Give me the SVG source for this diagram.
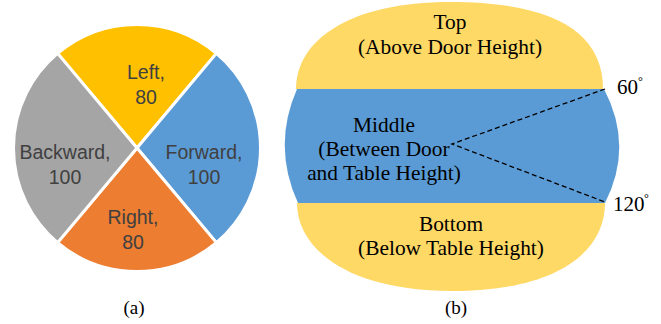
<svg xmlns="http://www.w3.org/2000/svg" width="661" height="324" viewBox="0 0 661 324">
<style>
.pie{stroke:#fff;stroke-width:3;stroke-linejoin:round}
.pl{font-family:"Liberation Sans",Arial,sans-serif;font-size:19.5px;fill:#404040;text-anchor:middle}
.tl{font-family:"Liberation Serif","Times New Roman",serif;font-size:21.4px;fill:#000;text-anchor:middle}
.deg{font-family:"Liberation Serif","Times New Roman",serif;font-size:21px;fill:#000}
.sup{font-family:"Liberation Serif","Times New Roman",serif;font-size:12px;fill:#000}
.cap{font-family:"Liberation Serif","Times New Roman",serif;font-size:19px;fill:#000;text-anchor:middle}
.y{fill:#FFD966}
.b{fill:#5B9BD5}
</style>
<rect width="661" height="324" fill="#fff"/>
<g id="pie-a">
  <g id="left"><path class="pie" fill="#FFC000" d="M137,148 L57.6,53.4 A123.5,123.5 0 0 1 216.4,53.4 Z"/>
    <text class="pl" x="146" y="79">Left,</text><text class="pl" x="146" y="104">80</text></g>
  <g id="forward"><path class="pie" fill="#5B9BD5" d="M137,148 L216.4,53.4 A123.5,123.5 0 0 1 216.4,242.6 Z"/>
    <text class="pl" x="204" y="159">Forward,</text><text class="pl" x="204" y="184">100</text></g>
  <g id="right"><path class="pie" fill="#ED7D31" d="M137,148 L216.4,242.6 A123.5,123.5 0 0 1 57.6,242.6 Z"/>
    <text class="pl" x="133" y="224">Right,</text><text class="pl" x="133" y="249">80</text></g>
  <g id="backward"><path class="pie" fill="#A5A5A5" d="M137,148 L57.6,242.6 A123.5,123.5 0 0 1 57.6,53.4 Z"/>
    <text class="pl" x="65" y="159">Backward,</text><text class="pl" x="65" y="184">100</text></g>
</g>
<g id="zones-b">
  <g id="top"><path class="y" d="M296,89 C296,40 350,2 450,2 C550,2 603,30 603,89 Z"/>
    <text class="tl" x="450" y="29">Top</text><text class="tl" x="450" y="54">(Above Door Height)</text></g>
  <g id="middle"><path class="b" d="M297,89 L604,89 Q634,146 605,203 L298,203 Q272,146 297,89 Z"/>
    <text class="tl" x="384" y="132">Middle</text><text class="tl" x="384" y="156">(Between Door</text><text class="tl" x="384" y="180">and Table Height)</text></g>
  <g id="bottom"><path class="y" d="M297,203 L605,203 C605,250 560,291 452,291 C350,291 297,250 297,203 Z"/>
    <text class="tl" x="451" y="231">Bottom</text><text class="tl" x="451" y="255">(Below Table Height)</text></g>
</g>
<g id="connectors" fill="none" stroke="#000" stroke-width="1.3" stroke-dasharray="5,3">
  <path d="M605,89 L452,144 L605,202"/>
</g>
<g id="angle-labels">
  <text class="deg" x="617" y="94">60</text><text class="sup" x="638" y="85">°</text>
  <text class="deg" x="613" y="211">120</text><text class="sup" x="644" y="202">°</text>
</g>
<text class="cap" x="134" y="314">(a)</text>
<text class="cap" x="456" y="314">(b)</text>
</svg>
